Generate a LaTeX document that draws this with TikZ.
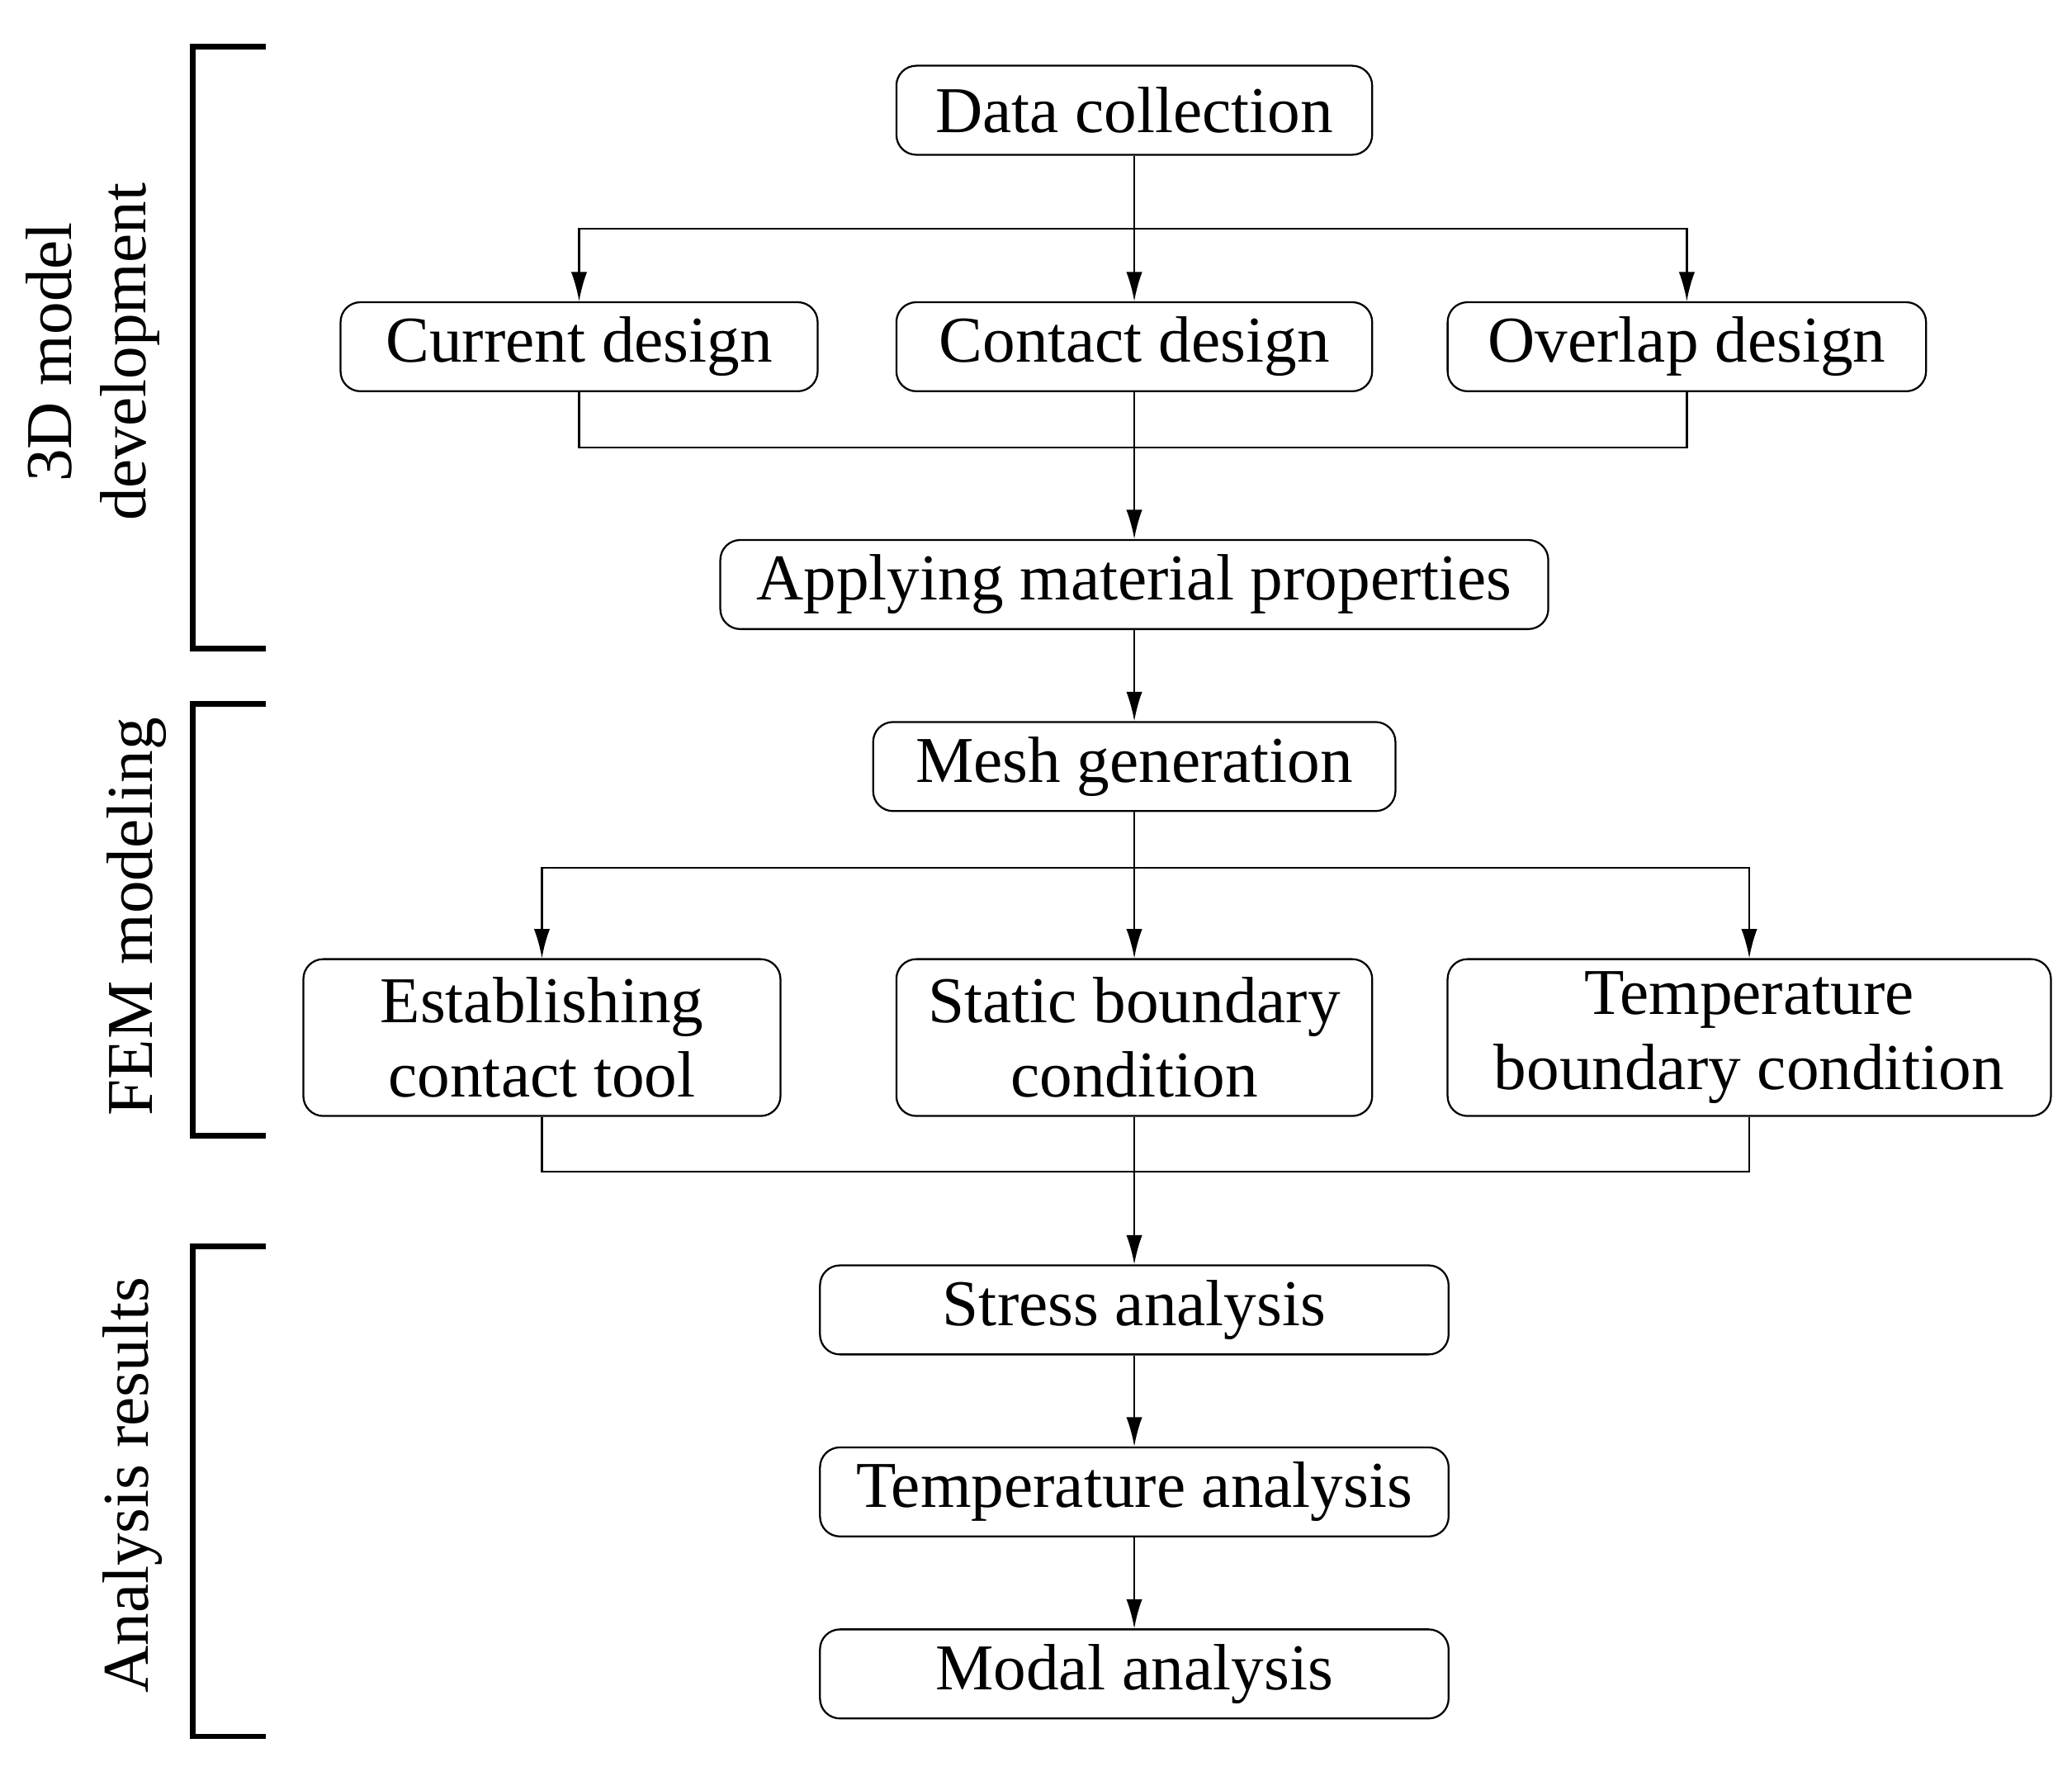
\documentclass[tikz,border=0pt]{standalone}
\usepackage{fontspec}
\setmainfont{Liberation Serif}
\usetikzlibrary{arrows.meta}
\tikzset{
  stepbox/.style={draw,rounded corners=0.15cm,minimum height=0.67cm,inner sep=1pt,align=center,font=\fontsize{14}{16}\selectfont},
  tallbox/.style={stepbox,minimum height=1.18cm},
  flow/.style={-{Latex[length=0.22cm,width=0.12cm]}},
  phase/.style={line width=1.2pt},
  phaselabel/.style={rotate=90,align=center,font=\fontsize{14}{16}\selectfont}
}
\begin{document}
\begin{tikzpicture}[x=0.01cm,y=-0.01cm]
\useasboundingbox (0,0) rectangle (1560,1340);

\node[stepbox,minimum width=3.58cm] (D) at (854,83) {Data collection};
\node[stepbox,minimum width=3.59cm] (C1) at (436,261) {Current design};
\node[stepbox,minimum width=3.58cm] (C2) at (854,261) {Contact design};
\node[stepbox,minimum width=3.60cm] (C3) at (1270,261) {Overlap design};
\node[stepbox,minimum width=6.23cm] (M) at (854,440) {Applying material properties};
\node[stepbox,minimum width=3.93cm] (G) at (854,577) {Mesh generation};
\node[tallbox,minimum width=3.59cm] (B1) at (408,781) {Establishing\\contact tool};
\node[tallbox,minimum width=3.58cm] (B2) at (854,781) {Static boundary\\condition};
\node[tallbox,minimum width=4.54cm] (B3) at (1317,781) {Temperature\\boundary condition};
\node[stepbox,minimum width=4.73cm] (R1) at (854,986) {Stress analysis};
\node[stepbox,minimum width=4.73cm] (R2) at (854,1123) {Temperature analysis};
\node[stepbox,minimum width=4.73cm] (R3) at (854,1260) {Modal analysis};

% design branch
\draw[flow] (D) -- (C2);
\draw[flow] (D.south) |- (436,172) -- (C1);
\draw[flow] (D.south) |- (1270,172) -- (C3);
\draw (C1) |- (854,337);
\draw (C3) |- (854,337);
\draw[flow] (C2) -- (M);
\draw[flow] (M) -- (G);

% boundary branch
\draw[flow] (G) -- (B2);
\draw[flow] (G.south) |- (408,653) -- (B1);
\draw[flow] (G.south) |- (1317,653) -- (B3);
\draw (B1) |- (854,882);
\draw (B3) |- (854,882);
\draw[flow] (B2) -- (R1);
\draw[flow] (R1) -- (R2);
\draw[flow] (R2) -- (R3);

% phase brackets
\draw[phase] (200,35) -- (145,35) -- (145,488) -- (200,488);
\draw[phase] (200,530) -- (145,530) -- (145,855) -- (200,855);
\draw[phase] (200,938) -- (145,938) -- (145,1307) -- (200,1307);
\node[phaselabel] (P1) at (70,265) {3D model\\development};
\node[phaselabel] (P2) at (103,690) {FEM modeling};
\node[phaselabel] (P3) at (100,1118) {Analysis results};
\end{tikzpicture}
\end{document}
